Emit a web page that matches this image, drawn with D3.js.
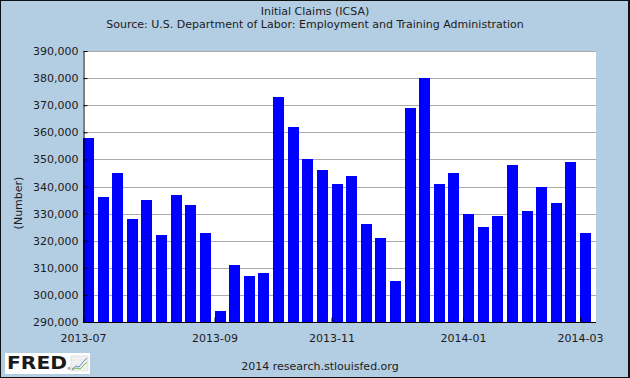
<!DOCTYPE html>
<html><head><meta charset="utf-8">
<script src="https://cdn.jsdelivr.net/npm/d3@7"></script>
<style>
html,body{margin:0;padding:0;background:#b3cde3;}
svg{display:block;font-family:"DejaVu Sans",Verdana,sans-serif;}
</style></head>
<body><svg id="c" width="630" height="378"></svg>
<script>
const weeks = ["2013-07-06","2013-07-13","2013-07-20","2013-07-27","2013-08-03","2013-08-10","2013-08-17","2013-08-24","2013-08-31",
"2013-09-07","2013-09-14","2013-09-21","2013-09-28","2013-10-05","2013-10-12","2013-10-19","2013-10-26",
"2013-11-02","2013-11-09","2013-11-16","2013-11-23","2013-11-30","2013-12-07","2013-12-14","2013-12-21","2013-12-28",
"2014-01-04","2014-01-11","2014-01-18","2014-01-25","2014-02-01","2014-02-08","2014-02-15","2014-02-22","2014-03-01"];
const claims = [358000,336000,345000,328000,335000,322000,337000,333000,323000,294000,311000,307000,308000,373000,362000,350000,
346000,341000,344000,326000,321000,305000,369000,380000,341000,345000,330000,325000,329000,348000,331000,340000,334000,349000,323000];
const xTickWeeks = ["2013-07-06","2013-09-07","2013-11-02","2014-01-04","2014-03-01"];
const yTicks = [290000,300000,310000,320000,330000,340000,350000,360000,370000,380000,390000];
const titleText = "Initial Claims (ICSA)";
const sourceText = "Source: U.S. Department of Labor: Employment and Training Administration";
const yTitle = "(Number)";
const footerText = "2014 research.stlouisfed.org";

const svg = d3.select("#c");
const W = 630, H = 378;
const L = 83, R = 596, T = 51, B = 322;
const ink = "#1c1c1c";

svg.append("rect").attr("x",0.5).attr("y",0.5).attr("width",W-1.5).attr("height",H-1)
  .attr("fill","#b3cde3").attr("stroke","#111").attr("stroke-width",1);
svg.append("line").attr("x1",W-1).attr("x2",W-1).attr("y1",0).attr("y2",H).attr("stroke","#111").attr("stroke-width",2);

// plot bg
svg.append("rect").attr("x",L).attr("y",T).attr("width",R-L).attr("height",B-T).attr("fill","#fff");

const parse = d3.timeParse("%Y-%m-%d");
const fmt = d3.timeFormat("%Y-%m");

const x = d3.scaleBand().domain(weeks).range([L, 591]).paddingInner(0.25).paddingOuter(0);
const xp = d3.scalePoint().domain(weeks).range([x(weeks[0]), x(weeks[weeks.length-1])]);
const y = d3.scaleLinear().domain([290000,390000]).range([B, T]);

// grid
svg.append("g").selectAll("line").data(yTicks.slice(1)).join("line")
  .attr("x1",L).attr("x2",R)
  .attr("y1",d=>Math.round(y(d))+0.5).attr("y2",d=>Math.round(y(d))+0.5)
  .attr("stroke","#aaaaaa").attr("stroke-width",1);

// bars
svg.append("g").selectAll("rect").data(weeks).join("rect")
  .attr("x",d=>Math.round(x(d)))
  .attr("width",Math.round(x.bandwidth()))
  .attr("y",(d,i)=>Math.round(y(claims[i])))
  .attr("height",(d,i)=>B - Math.round(y(claims[i])))
  .attr("fill","#0000ff");

// y axis
const yAx = svg.append("g").attr("transform",`translate(${L+0.5},0)`)
  .call(d3.axisLeft(y).tickValues(yTicks).tickSizeInner(-4).tickSizeOuter(0).tickPadding(5).tickFormat(d3.format(",")));
yAx.select(".domain").attr("stroke","#000");
yAx.selectAll(".tick line").attr("stroke","#000");
yAx.selectAll("text").attr("font-size",11).attr("fill",ink).attr("font-family","DejaVu Sans, sans-serif");

// x axis
const xAx = svg.append("g").attr("transform",`translate(0,${B+0.5})`)
  .call(d3.axisBottom(xp).tickValues(xTickWeeks).tickSizeInner(-5).tickSizeOuter(0).tickPadding(12)
    .tickFormat(d=>fmt(parse(d))));
xAx.select(".domain").attr("stroke","#000").attr("d",`M${L},0H${R}`);
xAx.selectAll(".tick line").attr("stroke","#000");
xAx.selectAll("text").attr("font-size",11).attr("fill",ink).attr("font-family","DejaVu Sans, sans-serif");

// titles
svg.append("text").attr("x",315).attr("y",15).attr("text-anchor","middle").attr("font-size",11).attr("fill",ink).text(titleText);
svg.append("text").attr("x",315).attr("y",27.5).attr("text-anchor","middle").attr("font-size",11).attr("fill",ink).text(sourceText);
svg.append("text").attr("transform","translate(21.5,203) rotate(-90)").attr("text-anchor","middle").attr("font-size",11).attr("fill",ink).text(yTitle);
svg.append("text").attr("x",320).attr("y",370).attr("text-anchor","middle").attr("font-size",11).attr("fill",ink).text(footerText);

// FRED logo
const lg = svg.append("g");
lg.append("rect").attr("x",5).attr("y",353).attr("width",85).attr("height",21).attr("fill","#fff");
lg.append("text").attr("x",7).attr("y",369).attr("font-size",17).attr("font-weight","bold")
  .attr("font-family","DejaVu Sans, sans-serif").attr("fill","#1a1a1a").attr("textLength",60).attr("lengthAdjust","spacingAndGlyphs").text("FRED");
lg.append("text").attr("x",67).attr("y",370).attr("font-size",4).attr("fill","#333").text("®");
const ic = lg.append("g").attr("transform","translate(71,356)");
ic.append("rect").attr("width",17).attr("height",15).attr("fill","#f2f2f2").attr("stroke","#ccc").attr("stroke-width",0.5);
[4,8,12].forEach(v=>{
  ic.append("line").attr("x1",0).attr("x2",17).attr("y1",v).attr("y2",v).attr("stroke","#ddd").attr("stroke-width",0.5);
});
ic.append("path").attr("d","M1,13 L5,10 L8,11 L12,6 L16,2").attr("fill","none").attr("stroke","#5a8fd0").attr("stroke-width",1);
ic.append("path").attr("d","M1,14 L5,12 L9,13 L13,9 L16,6").attr("fill","none").attr("stroke","#7cb342").attr("stroke-width",1);
</script></body></html>
